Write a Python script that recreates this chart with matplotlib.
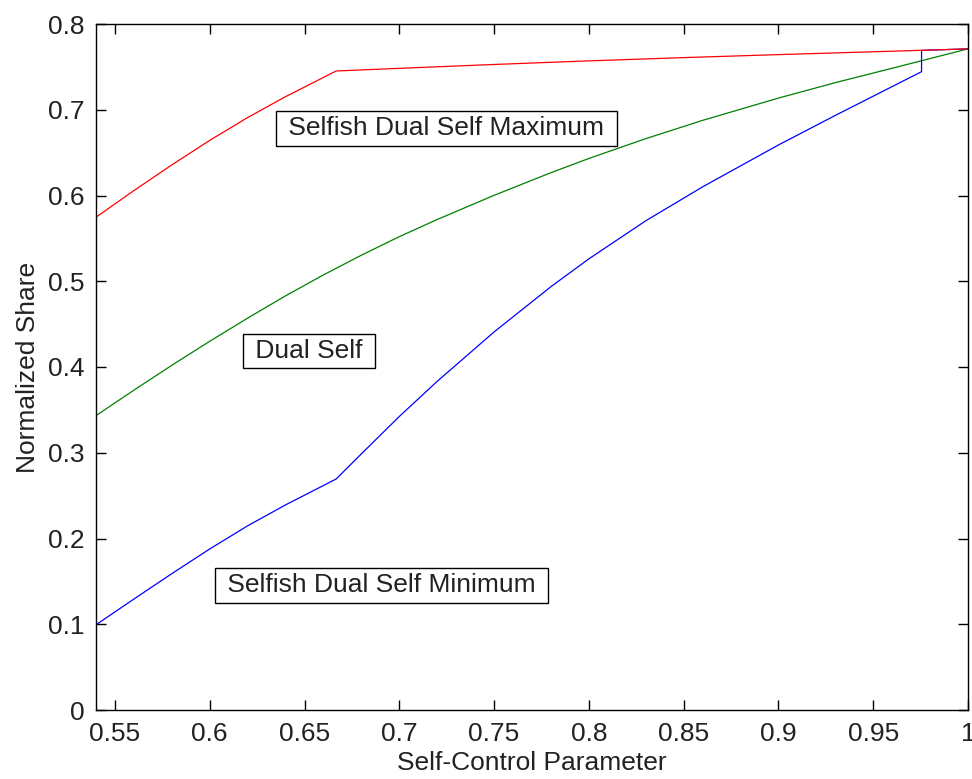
import matplotlib
matplotlib.use("Agg")
import matplotlib.pyplot as plt

plt.rcParams['font.family'] = ['Liberation Sans', 'DejaVu Sans']

# values
red_x = [0.54, 0.56, 0.58, 0.60, 0.62, 0.64, 0.6667, 0.70, 0.75, 0.80, 0.85, 0.90, 0.95, 1.0]
red_y = [0.5747, 0.6057, 0.6357, 0.6643, 0.6909, 0.7153, 0.7452, 0.7483, 0.7528, 0.7570, 0.7608,
         0.7643, 0.7676, 0.7710]

green_x = [0.54, 0.56, 0.58, 0.60, 0.62, 0.64, 0.66, 0.68, 0.70, 0.72, 0.75, 0.78, 0.80, 0.83,
           0.86, 0.90, 0.93, 0.96, 1.0]
green_y = [0.3433, 0.373, 0.402, 0.430, 0.457, 0.483, 0.5074, 0.5304, 0.552, 0.572, 0.6002, 0.6266,
           0.6432, 0.6663, 0.6876, 0.7136, 0.7316, 0.7484, 0.7710]

blue_x = [0.54, 0.56, 0.58, 0.60, 0.62, 0.64, 0.6667, 0.68, 0.70, 0.72, 0.75, 0.78, 0.80, 0.83,
          0.86, 0.90, 0.93, 0.9755, 0.9755, 1.0]
blue_y = [0.0994, 0.1294, 0.159, 0.1878, 0.2148, 0.2392, 0.2694, 0.2987, 0.3423, 0.3833, 0.4409,
          0.4937, 0.5261, 0.5705, 0.6101, 0.6589, 0.6934, 0.7444, 0.7692, 0.7710]

x_ticks = [0.55, 0.6, 0.65, 0.7, 0.75, 0.8, 0.85, 0.9, 0.95, 1.0]
x_labels = ['0.55', '0.6', '0.65', '0.7', '0.75', '0.8', '0.85', '0.9', '0.95', '1']
y_ticks = [0, 0.1, 0.2, 0.3, 0.4, 0.5, 0.6, 0.7, 0.8]
y_labels = ['0', '0.1', '0.2', '0.3', '0.4', '0.5', '0.6', '0.7', '0.8']

# label text, anchor x and baseline y (data units)
notes = [(' Selfish Dual Self Maximum ', 0.6376, 0.670),
         (' Dual Self ', 0.6203, 0.4106),
         (' Selfish Dual Self Minimum ', 0.6054, 0.1371)]

fs = 19
fig = plt.figure(figsize=(9.72, 7.79), dpi=100)
ax = fig.add_axes([96/972, 69/779, 872/972, 686/779])

ax.plot(green_x, green_y, color='#008000', lw=0.9)
ax.plot(blue_x, blue_y, color='#0000ff', lw=0.9)
ax.plot(red_x, red_y, color='#ff0000', lw=0.9)

for txt, tx, ty in notes:
    ax.text(tx, ty, txt, fontsize=fs, ha='left', va='baseline', color='#222222',
            bbox=dict(boxstyle='square,pad=0.2', fc='white', ec='black', lw=1.0))

ax.set_xlim(0.54, 1.0)
ax.set_ylim(0, 0.8)
ax.set_xticks(x_ticks)
ax.set_xticklabels(x_labels)
ax.set_yticks(y_ticks)
ax.set_yticklabels(y_labels)
ax.tick_params(direction='in', length=7, width=1.0, top=True, right=True, labelsize=fs,
               colors='black', labelcolor='#222222')
ax.tick_params(axis='x', pad=8.5)
ax.tick_params(axis='y', pad=8)
for sp in ax.spines.values():
    sp.set_linewidth(1.0)

ax.set_xlabel('Self-Control Parameter', fontsize=fs, color='#222222', labelpad=3.5)
ax.set_ylabel('Normalized Share', fontsize=fs, color='#222222', labelpad=6)

fig.savefig('out.png', dpi=100)
